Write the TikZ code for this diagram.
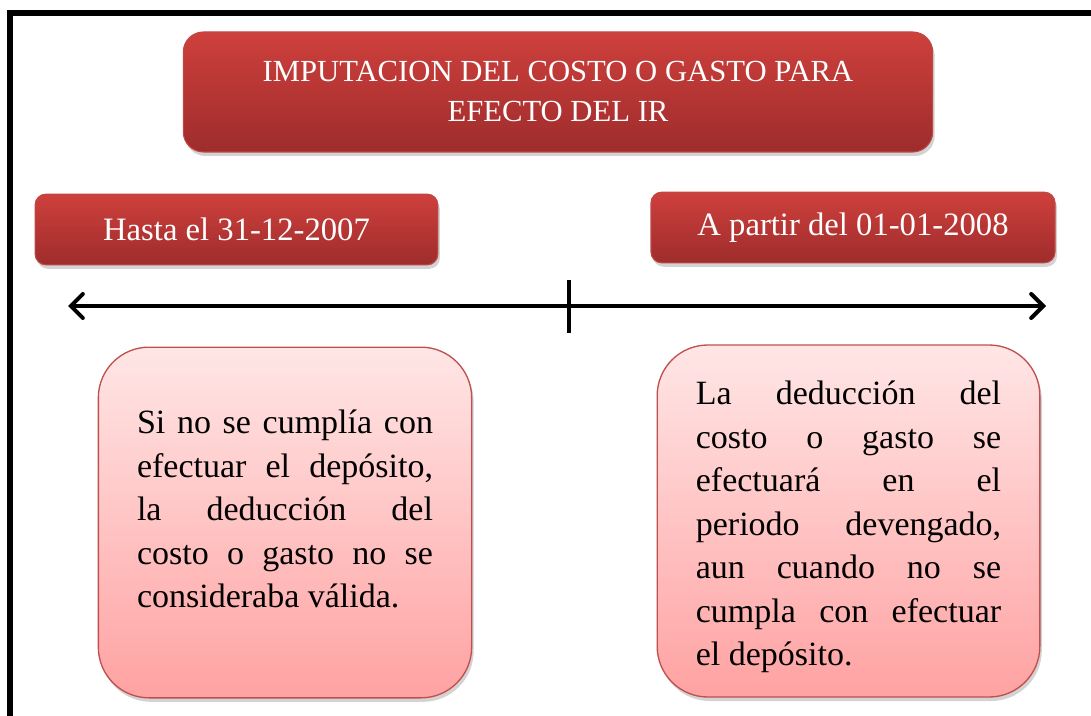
\documentclass[tikz,border=0pt]{standalone}
\usepackage{fontspec}
\setmainfont{Liberation Serif}
\usetikzlibrary{arrows.meta,shadows}

\definecolor{redtop}{RGB}{206,64,60}
\definecolor{redbottom}{RGB}{158,44,44}
\definecolor{redline}{RGB}{190,72,68}
\definecolor{pinktop}{RGB}{255,230,230}
\definecolor{pinkbottom}{RGB}{255,162,162}
\definecolor{pinkline}{RGB}{192,80,77}

\tikzset{
  redbox/.style={draw=redline, line width=0.8pt, rounded corners=8pt,
    top color=redtop, bottom color=redbottom, text=white,
    drop shadow={opacity=0.35, shadow xshift=1.5pt, shadow yshift=-3pt}},
  pinkbox/.style={draw=pinkline, line width=1pt, rounded corners=38pt,
    top color=pinktop, bottom color=pinkbottom,
    drop shadow={opacity=0.35, shadow xshift=1.5pt, shadow yshift=-3pt}},
  datetext/.style={font=\fontsize{24.5}{30}\selectfont},
  bodytext/.style={align=justify, font=\fontsize{25.5}{32.6}\selectfont},
}

\begin{document}
\begin{tikzpicture}[x=0.75pt,y=0.75pt,yscale=-1,xscale=1]
%bounding box, same size as the page
\useasboundingbox (0,0) rectangle (1091,716);

%frame on top and left
\draw [line width=3.8pt] (10,800) -- (10,13) -- (1200,13) ;

%Title
\node [redbox, rounded corners=15pt, minimum width=562pt, minimum height=90pt,
  align=center, font=\fontsize{23}{30}\selectfont] (title) at (558,92)
  {IMPUTACION DEL COSTO O GASTO PARA\\EFECTO DEL IR};

%Dates
\node [redbox, datetext, minimum width=302pt, minimum height=53pt] (before) at (236.5,229.5) {Hasta el 31-12-2007};
\node [redbox, datetext, minimum width=303pt, minimum height=53pt] (after) at (853,227.5) {A partir del 01-01-2008};

%Time line
\coordinate (lend) at (68,306);
\coordinate (rend) at (1046,306);
\coordinate (ttop) at (569,280);
\coordinate (tbot) at (569,333);
\draw [line width=3pt, {Straight Barb[length=9pt,width=18pt,line cap=round]}-{Straight Barb[length=9pt,width=18pt,line cap=round]}] (lend) -- (rend) ;
\draw [line width=3pt] (ttop) -- (tbot) ;

%Boxes
\node [pinkbox, minimum width=280pt, minimum height=263pt] (oldbox) at (285,522.5) {};
\node [pinkbox, minimum width=287pt, minimum height=264pt] (newbox) at (848.5,521) {};

% Text Node
\node [bodytext, text width=222pt] (oldtext) at (285,509)
  {\hyphenpenalty=10000 \tolerance=9999 Si no se cumplía con\linebreak efectuar el depósito,\linebreak la deducción del\linebreak costo o gasto no se\linebreak consideraba válida.};
\node [bodytext, text width=229pt] (newtext) at (848.5,527)
  {\hyphenpenalty=10000 \tolerance=9999 La deducción del\linebreak costo o gasto se\linebreak efectuará en el\linebreak periodo devengado,\linebreak aun cuando no se\linebreak cumpla con efectuar\linebreak el depósito.};

\end{tikzpicture}
\end{document}
